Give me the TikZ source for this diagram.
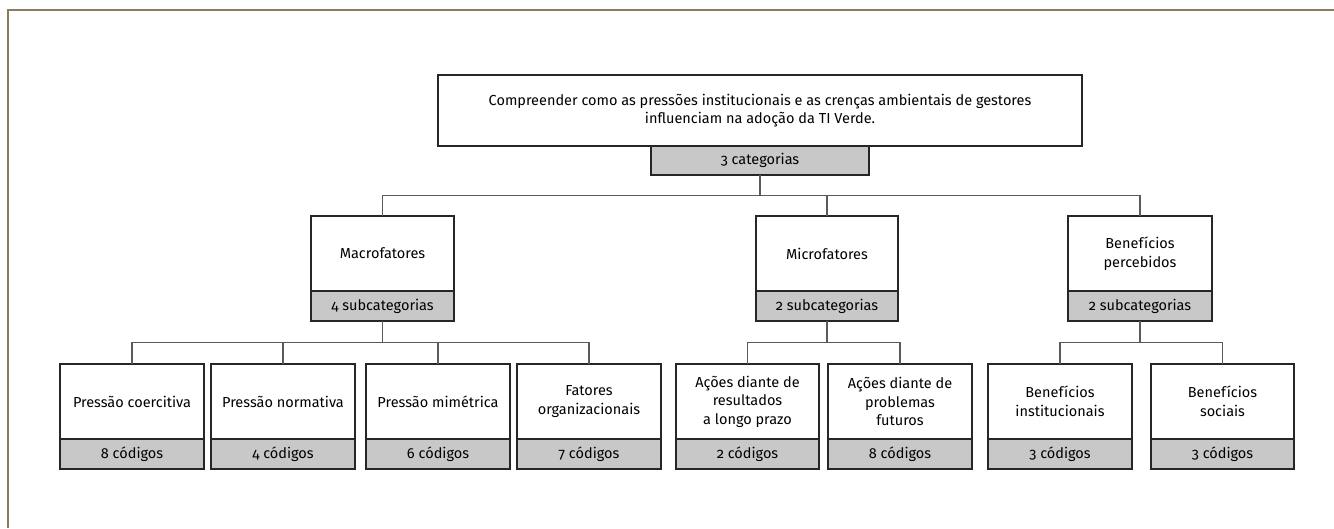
\documentclass[tikz,border=0pt]{standalone}
\usepackage{fontspec}
\setmainfont{Fira Sans}[Numbers=OldStyle]
\usetikzlibrary{positioning,calc}

\definecolor{framebrown}{HTML}{8C7B5F}
\definecolor{countgray}{HTML}{C8C8C9}
\definecolor{linkgray}{HTML}{5A5A5A}

\tikzset{
  textbox/.style={draw=black!85, line width=1.2pt, fill=white, align=center,
    inner sep=0pt, outer sep=0pt, minimum width=144pt, minimum height=75pt,
    font=\fontsize{14.5}{18.5}\selectfont},
  countbox/.style={draw=black!85, line width=1.2pt, fill=countgray,
    inner sep=0pt, outer sep=0pt, minimum width=144pt, minimum height=30pt,
    font=\fontsize{14.5}{18.5}\selectfont},
  link/.style={draw=linkgray, line width=1.2pt,
    to path={|- ($(\tikztostart)!.5!(\tikztotarget)$) -| (\tikztotarget)}}
}

\begin{document}
\begin{tikzpicture}[x=1pt, y=-1pt]
  \useasboundingbox (0,0) rectangle (1334,528);
  % Frame
  \draw[framebrown, line width=2pt] (1334,10) -- (8,10) -- (8,528);

  % Define the goal
  \node[textbox, minimum width=644pt, minimum height=71pt] (goal) at (760,110.5)
    {Compreender como as pressões institucionais e as crenças ambientais de gestores\\
     influenciam na adoção da TI Verde.};
  \node[countbox, minimum width=218pt, minimum height=29pt, below=0pt of goal] (goalc) {3 categorias};

  % Categories
  \node[textbox, minimum width=143pt] (macro) at (382.5,253.5) {Macrofatores};
  \node[countbox, minimum width=143pt, below=0pt of macro] (macroc) {4 subcategorias};
  \node[textbox, minimum width=142pt] (micro) at (827,253.5) {Microfatores};
  \node[countbox, minimum width=142pt, below=0pt of micro] (microc) {2 subcategorias};
  \node[textbox] (benef) at (1140,253.5) {Benefícios\\percebidos};
  \node[countbox, below=0pt of benef] (benefc) {2 subcategorias};

  % Subcategories
  \node[textbox] (coerc) at (132,401.5) {Pressão coercitiva};
  \node[countbox, below=0pt of coerc] (coercc) {8 códigos};
  \node[textbox] (norm) at (283,401.5) {Pressão normativa};
  \node[countbox, below=0pt of norm] (normc) {4 códigos};
  \node[textbox] (mimet) at (438,401.5) {Pressão mimétrica};
  \node[countbox, below=0pt of mimet] (mimetc) {6 códigos};
  \node[textbox] (org) at (589,401.5) {Fatores\\organizacionais};
  \node[countbox, below=0pt of org] (orgc) {7 códigos};
  \node[textbox, minimum width=143pt] (longo) at (747.5,401.5) {Ações diante de\\resultados\\a longo prazo};
  \node[countbox, minimum width=143pt, below=0pt of longo] (longoc) {2 códigos};
  \node[textbox] (futuro) at (900,401.5) {Ações diante de\\problemas\\futuros};
  \node[countbox, below=0pt of futuro] (futuroc) {8 códigos};
  \node[textbox] (inst) at (1060,401.5) {Benefícios\\institucionais};
  \node[countbox, below=0pt of inst] (instc) {3 códigos};
  \node[textbox, minimum width=143pt] (social) at (1222.5,401.5) {Benefícios\\sociais};
  \node[countbox, minimum width=143pt, below=0pt of social] (socialc) {3 códigos};

  % Connectors
  \draw[link] (goalc.south) to (macro.north) (goalc.south) to (micro.north)
    (goalc.south) to (benef.north);
  \draw[link] (macroc.south) to (coerc.north) (macroc.south) to (norm.north)
    (macroc.south) to (mimet.north) (macroc.south) to (org.north);
  \draw[link] (microc.south) to (longo.north) (microc.south) to (futuro.north);
  \draw[link] (benefc.south) to (inst.north) (benefc.south) to (social.north);
\end{tikzpicture}
\end{document}
